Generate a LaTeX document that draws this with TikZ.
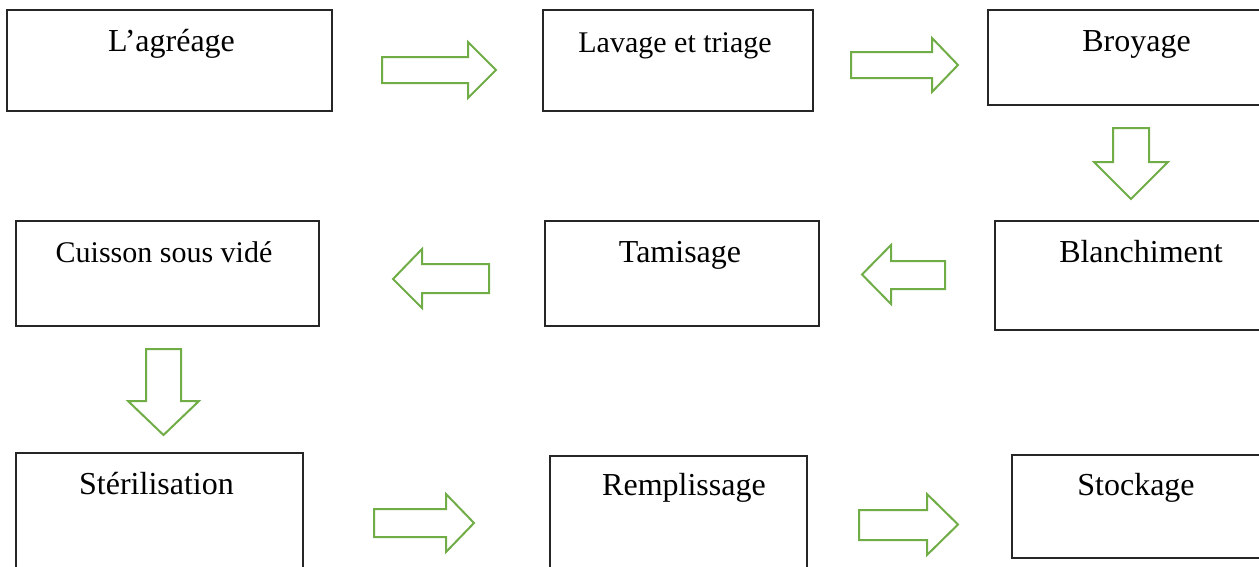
\documentclass[tikz,border=0pt]{standalone}
\usepackage{fontspec}
\setmainfont{Liberation Serif}
\definecolor{arrowgreen}{HTML}{70AD47}
\tikzset{
  boxline/.style={draw=black!85, line width=1.3pt},
  blockarrow/.style={draw=arrowgreen, fill=white, line width=2pt, line join=miter},
  lbl/.style={anchor=base, inner sep=0pt, font=\fontsize{32}{36}\selectfont},
  lblsmall/.style={anchor=base, inner sep=0pt, font=\fontsize{30}{34}\selectfont}
}
\begin{document}
\begin{tikzpicture}[x=1pt,y=-1pt]
\useasboundingbox (0,0) rectangle (1259,566);
\clip (0,0) rectangle (1259,566);
% boxes
\node[boxline, inner sep=0pt, minimum width=325pt, minimum height=101pt] (agr) at (169.5,60.5) {};
\node[boxline, inner sep=0pt, minimum width=270pt, minimum height=101pt] (lav) at (678,60.5) {};
\node[boxline, inner sep=0pt, minimum width=274pt, minimum height=95pt] (bro) at (1125,57.5) {};
\node[boxline, inner sep=0pt, minimum width=267pt, minimum height=109pt] (bla) at (1128.5,275.5) {};
\node[boxline, inner sep=0pt, minimum width=274pt, minimum height=105pt] (tam) at (682,273.5) {};
\node[boxline, inner sep=0pt, minimum width=303pt, minimum height=105pt] (cui) at (167.5,273.5) {};
\node[boxline, inner sep=0pt, minimum width=287pt, minimum height=117pt] (ste) at (159.5,511.5) {};
\node[boxline, inner sep=0pt, minimum width=257pt, minimum height=114pt] (rem) at (678.5,513) {};
\node[boxline, inner sep=0pt, minimum width=250pt, minimum height=103pt] (sto) at (1137,506.5) {};
% labels
\node[lbl] (tagr) at (171.5,51) {L’agréage};
\node[lblsmall] (tlav) at (675,52) {Lavage et triage};
\node[lbl] (tbro) at (1136.5,51) {Broyage};
\node[lbl] (tbla) at (1141,262) {Blanchiment};
\node[lbl] (ttam) at (680,262) {Tamisage};
\node[lblsmall] (tcui) at (164,262) {Cuisson sous vidé};
\node[lbl] (tste) at (156.5,494) {Stérilisation};
\node[lbl] (trem) at (684,495) {Remplissage};
\node[lbl] (tsto) at (1136,495) {Stockage};
% block arrows
\draw[blockarrow] (382,57) -- (468,57) -- (468,42) -- (496,70) -- (468,98) -- (468,83) -- (382,83) -- cycle;
\draw[blockarrow] (851,52) -- (932,52) -- (932,38) -- (958,65) -- (932,92) -- (932,78) -- (851,78) -- cycle;
\draw[blockarrow] (1113,128) -- (1149,128) -- (1149,162) -- (1168,162) -- (1131,199) -- (1094,162) -- (1113,162) -- cycle;
\draw[blockarrow] (945,261) -- (891,261) -- (891,245) -- (862,274.5) -- (891,304) -- (891,289) -- (945,289) -- cycle;
\draw[blockarrow] (489,264) -- (422,264) -- (422,249) -- (393,279) -- (422,308) -- (422,293) -- (489,293) -- cycle;
\draw[blockarrow] (146,349) -- (181,349) -- (181,401) -- (199,401) -- (163.5,435) -- (128,401) -- (146,401) -- cycle;
\draw[blockarrow] (374,509) -- (446,509) -- (446,494) -- (474,523) -- (446,552) -- (446,537) -- (374,537) -- cycle;
\draw[blockarrow] (859,510) -- (927,510) -- (927,494) -- (958,524.5) -- (927,555) -- (927,540) -- (859,540) -- cycle;
\end{tikzpicture}
\end{document}
